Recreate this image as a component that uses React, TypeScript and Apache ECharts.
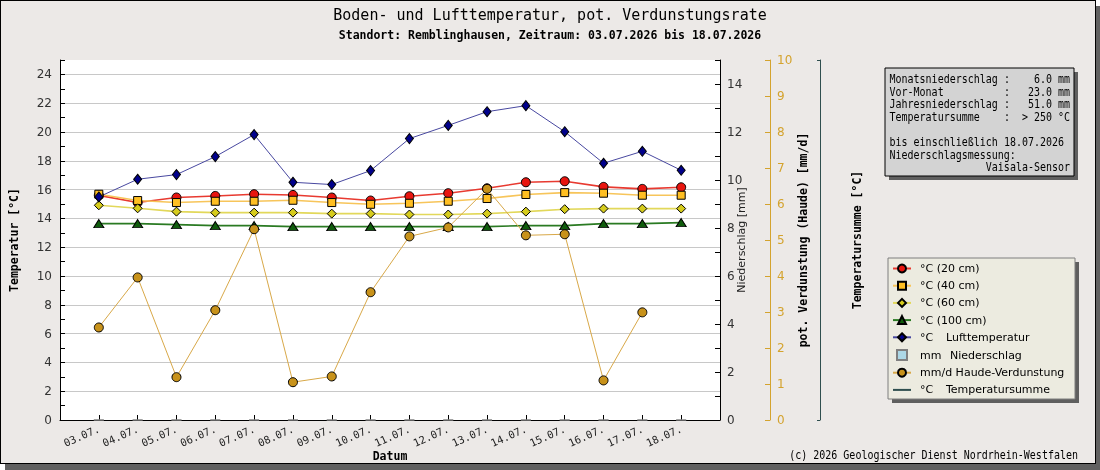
import React, { useEffect, useRef } from "react";
import * as echarts from "echarts";

const dates = ["03.07.", "04.07.", "05.07.", "06.07.", "07.07.", "08.07.", "09.07.", "10.07.", "11.07.", "12.07.", "13.07.", "14.07.", "15.07.", "16.07.", "17.07.", "18.07."];
const t20 = [15.6, 15.1, 15.45, 15.56, 15.68, 15.63, 15.45, 15.24, 15.54, 15.75, 16.09, 16.51, 16.58, 16.19, 16.05, 16.16];
const t40 = [15.68, 15.24, 15.1, 15.19, 15.19, 15.26, 15.1, 14.98, 15.05, 15.19, 15.38, 15.66, 15.79, 15.75, 15.61, 15.61];
const t60 = [14.91, 14.7, 14.47, 14.4, 14.4, 14.4, 14.33, 14.33, 14.27, 14.27, 14.33, 14.47, 14.64, 14.68, 14.68, 14.68];
const t100 = [13.64, 13.64, 13.57, 13.5, 13.5, 13.43, 13.43, 13.43, 13.43, 13.43, 13.43, 13.5, 13.5, 13.64, 13.64, 13.71];
const luft = [15.49, 16.72, 17.04, 18.29, 19.82, 16.51, 16.35, 17.32, 19.54, 20.46, 21.41, 21.83, 20.02, 17.83, 18.66, 17.34];
const niederschlag = [0, 0, 0, 0, 0, 0, 0, 0, 0, 0, 0, 0, 0, 0, 0, 0];
const haude = [2.57, 3.96, 1.19, 3.05, 5.3, 1.05, 1.21, 3.55, 5.1, 5.35, 6.42, 5.13, 5.16, 1.1, 2.99, null];
const temperatursumme: (number | null)[] = [];

const titleText = "Boden- und Lufttemperatur, pot. Verdunstungsrate";
const subtitleText = "Standort: Remblinghausen, Zeitraum: 03.07.2026 bis 18.07.2026";
const copyrightText = "(c) 2026 Geologischer Dienst Nordrhein-Westfalen";
const infoLines = [
  "Monatsniederschlag :    6.0 mm",
  "Vor-Monat          :   23.0 mm",
  "Jahresniederschlag :   51.0 mm",
  "Temperatursumme    :  > 250 °C",
  "",
  "bis einschließlich 18.07.2026",
  "Niederschlagsmessung:",
  "                Vaisala-Sensor",
];

const MONO = "'DejaVu Sans Mono', monospace";
const SANS = "'DejaVu Sans', sans-serif";
const GOLD = "#d4a32e";
const BOX_FONT = 11.5;
const BOX_SCALE = 6.02 / (BOX_FONT * 0.602);

const pad = (arr: (number | null)[]) => [null, ...arr, null];
const cats = ["", ...dates, ""];
const inner = (i: number) => i > 0 && i < cats.length - 1;

function monoLine(line: string, x0: number, y: number, cw: number) {
  const out: any[] = [];
  const re = /\S+/g;
  let m: RegExpExecArray | null;
  while ((m = re.exec(line)) !== null) {
    out.push({
      type: "text",
      x: x0 + m.index * cw,
      y,
      scaleX: BOX_SCALE,
      style: { text: m[0], font: `${BOX_FONT}px ${MONO}`, fill: "#000", textVerticalAlign: "middle", verticalAlign: "middle" },
      z: 10,
    });
  }
  return out;
}

export default function App() {
  const ref = useRef<HTMLDivElement>(null);
  useEffect(() => {
    if (!ref.current) return;
    const chart = echarts.init(ref.current, undefined, { renderer: "svg" });
    const infoTexts: any[] = [];
    infoLines.forEach((l, i) => {
      infoTexts.push(...monoLine(l, 889.5, 79.5 + i * 12.6, 6.02));
    });
    const lineSeries = (name: string, data: (number | null)[], lineColor: string, fill: string, symbol: string, size: any, width: number, yAxisIndex = 0) => ({
      name,
      type: "line",
      yAxisIndex,
      data: pad(data),
      symbol,
      symbolSize: size,
      showAllSymbol: true,
      lineStyle: { color: lineColor, width },
      itemStyle: { color: fill, borderColor: "#000", borderWidth: 1 },
      emphasis: { disabled: true },
    });
    const nameStyle = { fontFamily: MONO, fontSize: 11.5, fontWeight: "bold", color: "#000" };
    const option: any = {
      animation: false,
      backgroundColor: "transparent",
      title: {
        text: titleText,
        subtext: subtitleText,
        left: "center",
        top: 2,
        itemGap: 7,
        textStyle: { fontFamily: MONO, fontSize: 15, fontWeight: "normal", color: "#000" },
        subtextStyle: { fontFamily: MONO, fontSize: 11.5, fontWeight: "bold", color: "#000" },
      },
      grid: { left: 60, right: 380, top: 60, bottom: 50, show: true, backgroundColor: "#fff", borderWidth: 0 },
      legend: {
        orient: "vertical",
        left: 892,
        top: 263,
        padding: 0,
        itemWidth: 18,
        itemHeight: 10,
        itemGap: 6.2,
        selectedMode: false,
        textStyle: {
          fontFamily: SANS,
          fontSize: 11,
          color: "#000",
          padding: [0, 0, 0, 4],
          rich: {
            u: { fontFamily: SANS, fontSize: 11, color: "#000", width: 26 },
            m: { fontFamily: SANS, fontSize: 11, color: "#000", width: 30 },
            n: { fontFamily: SANS, fontSize: 11, color: "#000" },
          },
        },
        formatter: (name: string) => {
          const parts = name.split(/\s{2,}/);
          if (parts.length === 2) {
            const key = parts[0] === "mm" ? "m" : "u";
            return `{${key}|${parts[0]}}{n|${parts[1]}}`;
          }
          return name;
        },
        data: [
          "°C (20 cm)",
          "°C (40 cm)",
          "°C (60 cm)",
          "°C (100 cm)",
          "°C   Lufttemperatur",
          { name: "mm  Niederschlag", icon: "path://M0,0h10v10h-10z" },
          "mm/d Haude-Verdunstung",
          { name: "°C   Temperatursumme", icon: "path://M0,0h18v2h-18z" },
        ],
      },
      xAxis: {
        type: "category",
        data: cats,
        boundaryGap: false,
        axisLine: { lineStyle: { color: "#000", width: 1 } },
        axisTick: { inside: true, length: 5, interval: (i: number) => inner(i), lineStyle: { color: "#000" } },
        axisLabel: {
          interval: (i: number) => inner(i),
          rotate: 24,
          margin: 8,
          fontFamily: MONO,
          fontSize: 10.5,
          color: "#222",
        },
        splitLine: { show: false },
        name: "Datum",
        nameLocation: "middle",
        nameGap: 30,
        nameMoveOverlap: false,
        nameTextStyle: nameStyle,
      },
      yAxis: [
        {
          type: "value",
          position: "left",
          min: 0,
          max: 25,
          interval: 2,
          axisLine: { show: true, lineStyle: { color: "#000" } },
          axisTick: { show: true, inside: true, length: 5, lineStyle: { color: "#000" } },
          minorTick: { show: true, splitNumber: 2, length: 5, lineStyle: { color: "#000" } },
          axisLabel: { fontFamily: SANS, fontSize: 12, color: "#333", margin: 8, showMaxLabel: false },
          splitLine: { show: true, showMaxLine: false, showMinLine: false, lineStyle: { color: "#c8c8c8", width: 1 } },
          name: "Temperatur [°C]",
          nameLocation: "middle",
          nameRotate: 90,
          nameGap: 40,
          nameMoveOverlap: false,
          nameTextStyle: nameStyle,
        },
        {
          type: "value",
          position: "right",
          offset: 0,
          min: 0,
          max: 15,
          interval: 2,
          axisLine: { show: true, lineStyle: { color: "#000" } },
          axisTick: { show: true, inside: true, length: 5, lineStyle: { color: "#000" } },
          minorTick: { show: true, splitNumber: 2, length: 5, lineStyle: { color: "#000" } },
          axisLabel: { fontFamily: SANS, fontSize: 12, color: "#333", margin: 7, showMaxLabel: false },
          splitLine: { show: false },
          name: "Niederschlag [mm]",
          nameLocation: "middle",
          nameRotate: 90,
          nameGap: 16,
          nameMoveOverlap: false,
          nameTextStyle: { fontFamily: SANS, fontSize: 11, color: "#222" },
        },
        {
          type: "value",
          position: "right",
          offset: 50,
          min: 0,
          max: 10,
          interval: 1,
          axisLine: { show: true, lineStyle: { color: GOLD } },
          axisTick: { show: true, inside: true, length: 5, lineStyle: { color: GOLD } },
          axisLabel: { fontFamily: SANS, fontSize: 12, color: GOLD, margin: 7 },
          splitLine: { show: false },
          name: "pot. Verdunstung (Haude) [mm/d]",
          nameLocation: "middle",
          nameRotate: 90,
          nameGap: 27,
          nameMoveOverlap: false,
          nameTextStyle: nameStyle,
        },
        {
          type: "value",
          position: "right",
          offset: 100,
          min: 0,
          max: 1,
          interval: 1,
          axisLine: { show: true, lineStyle: { color: "#2f4f4f" } },
          axisTick: { show: true, inside: true, length: 3, lineStyle: { color: "#2f4f4f" } },
          axisLabel: { show: false },
          splitLine: { show: false },
          name: "Temperatursumme [°C]",
          nameLocation: "middle",
          nameRotate: 90,
          nameGap: 31,
          nameMoveOverlap: false,
          nameTextStyle: nameStyle,
        },
      ],
      series: [
        lineSeries("°C (20 cm)", t20, "#e83a30", "#e8150f", "circle", 9, 1.6),
        lineSeries("°C (40 cm)", t40, "#f7c55a", "#ffbf22", "rect", 8, 1.6),
        lineSeries("°C (60 cm)", t60, "#e2d85a", "#d6cc1c", "diamond", 9, 1.6),
        lineSeries("°C (100 cm)", t100, "#2a7a22", "#0f5c0c", "triangle", [10, 8], 1.6),
        lineSeries("°C   Lufttemperatur", luft, "#4848a0", "#00008b", "diamond", [8, 10], 1),
        {
          name: "mm  Niederschlag",
          type: "bar",
          yAxisIndex: 1,
          data: pad(niederschlag),
          barWidth: 10,
          itemStyle: { color: "#add8e6", borderColor: "#808080", borderWidth: 1 },
          emphasis: { disabled: true },
        },
        lineSeries("mm/d Haude-Verdunstung", haude, "#d8a848", "#c8921a", "circle", 9, 1, 2),
        {
          name: "°C   Temperatursumme",
          type: "line",
          yAxisIndex: 3,
          data: pad(temperatursumme),
          symbol: "none",
          lineStyle: { color: "#2f4f4f", width: 2 },
          itemStyle: { color: "#2f4f4f" },
        },
      ],
      graphic: [
        { type: "rect", shape: { x: 889, y: 72, width: 189, height: 108 }, style: { fill: "#5f5f5f" }, z: 1 },
        { type: "rect", shape: { x: 885, y: 68, width: 189, height: 108 }, style: { fill: "#d3d3d3", stroke: "#000", lineWidth: 1 }, z: 2 },
        ...infoTexts,
        { type: "rect", shape: { x: 892, y: 262, width: 187, height: 141 }, style: { fill: "#5f5f5f" }, z: 1 },
        { type: "rect", shape: { x: 888, y: 258, width: 187, height: 141 }, style: { fill: "#ecebe0", stroke: "#7f7f7f", lineWidth: 1 }, z: 2 },
        {
          type: "text",
          x: 1078,
          y: 455,
          scaleX: BOX_SCALE,
          style: { text: copyrightText, font: `${BOX_FONT}px ${MONO}`, fill: "#000", textAlign: "right", align: "right", textVerticalAlign: "middle", verticalAlign: "middle" },
          z: 10,
        },
      ],
    };
    chart.setOption(option);
    return () => chart.dispose();
  }, []);
  return (
    <div style={{ position: "fixed", left: 0, top: 0, width: 1100, height: 470, overflow: "hidden" }}>
      <div
        style={{
          position: "absolute",
          left: 0,
          top: 0,
          width: 1096,
          height: 464,
          boxSizing: "border-box",
          border: "1px solid #000",
          background: "#ece9e7",
          boxShadow: "5px 6px 0 #606060",
        }}
      />
      <div ref={ref} style={{ position: "absolute", left: 0, top: 0, width: 1100, height: 470 }} />
    </div>
  );
}
